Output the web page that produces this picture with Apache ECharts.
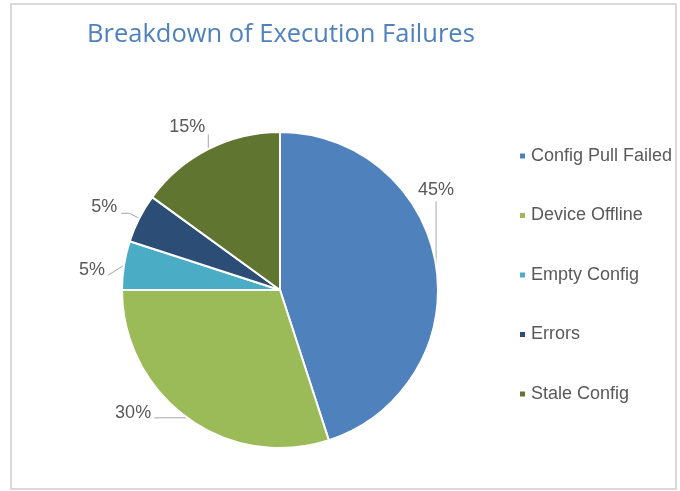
<!DOCTYPE html>
<html>
<head>
<meta charset="utf-8">
<style>
  html, body { margin: 0; padding: 0; background: #fff; }
  #chart { width: 680px; height: 491px; }
</style>
<script src="https://cdn.jsdelivr.net/npm/echarts@6/dist/echarts.min.js"></script>
</head>
<body>
<div id="chart"></div>
<script>
// data
const categories = ['Config Pull Failed', 'Device Offline', 'Empty Config', 'Errors', 'Stale Config'];
const shares = [45, 30, 5, 5, 15];
const sliceColors = ['#4F81BD', '#9BBB59', '#4BACC6', '#2C4D75', '#5F7530'];

// pie geometry
const cx = 280, cy = 290, R = 158;

// where each label sits, relative to the slice's outer edge point (Excel style placement)
const labelNudge = [
    { dx: 0, dy: -75, align: 'center', line: [[0, 0], [0, -64]] },
    { dx: -36, dy: -5, align: 'right', line: [[0, 0], [-33, 0]] },
    { dx: -19, dy: 5, align: 'right', line: [[0, 0], [-16, 10]] },
    { dx: -22, dy: -11, align: 'right', line: [[0, 0], [-10, -5], [-18, -5]] },
    { dx: -21, dy: -22, align: 'center', line: [[0, 0], [0, -15]] }
];

// edge point at the middle angle of each slice (clockwise from 12 o'clock)
const total = shares.reduce((a, b) => a + b, 0);
let acc = 0;
const edgePoints = shares.map(v => {
    const mid = (acc + v / 2) / total * Math.PI * 2;
    acc += v;
    return [cx + R * Math.sin(mid), cy - R * Math.cos(mid)];
});

const chart = echarts.init(document.getElementById('chart'));

chart.setOption({
    animation: false,
    color: sliceColors,
    title: {
        text: 'Breakdown of Execution Failures',
        left: 87,
        top: 22,
        padding: 0,
        textStyle: {
            fontFamily: 'Open Sans',
            fontWeight: 'normal',
            fontSize: 25.5,
            color: '#4F81BD'
        }
    },
    graphic: [{
        type: 'rect',
        shape: { x: 11, y: 4, width: 665, height: 485 },
        style: { fill: 'none', stroke: '#D9D9D9', lineWidth: 2 },
        silent: true
    }],
    legend: {
        orient: 'vertical',
        left: 518,
        top: 147,
        padding: 0,
        itemWidth: 7,
        itemHeight: 7,
        itemGap: 41.5,
        icon: 'rect',
        textStyle: {
            fontFamily: 'Liberation Sans',
            fontSize: 18,
            color: '#595959',
            lineHeight: 18
        },
        data: categories
    },
    series: [{
        type: 'pie',
        center: [cx, cy],
        radius: R,
        startAngle: 90,
        clockwise: true,
        itemStyle: { borderColor: '#fff', borderWidth: 2 },
        label: {
            show: true,
            formatter: '{d}%',
            fontFamily: 'Liberation Sans',
            fontSize: 18,
            color: '#595959'
        },
        labelLine: {
            show: true,
            lineStyle: { color: '#A6A6A6', width: 1 }
        },
        labelLayout: function (params) {
            const i = params.dataIndex;
            const n = labelNudge[i];
            const e = edgePoints[i];
            return {
                x: e[0] + n.dx,
                y: e[1] + n.dy,
                align: n.align,
                verticalAlign: 'middle',
                labelLinePoints: n.line.map(p => [e[0] + p[0], e[1] + p[1]])
            };
        },
        data: categories.map((c, i) => ({ name: c, value: shares[i] }))
    }]
});

window.addEventListener('resize', () => chart.resize());
</script>
</body>
</html>
